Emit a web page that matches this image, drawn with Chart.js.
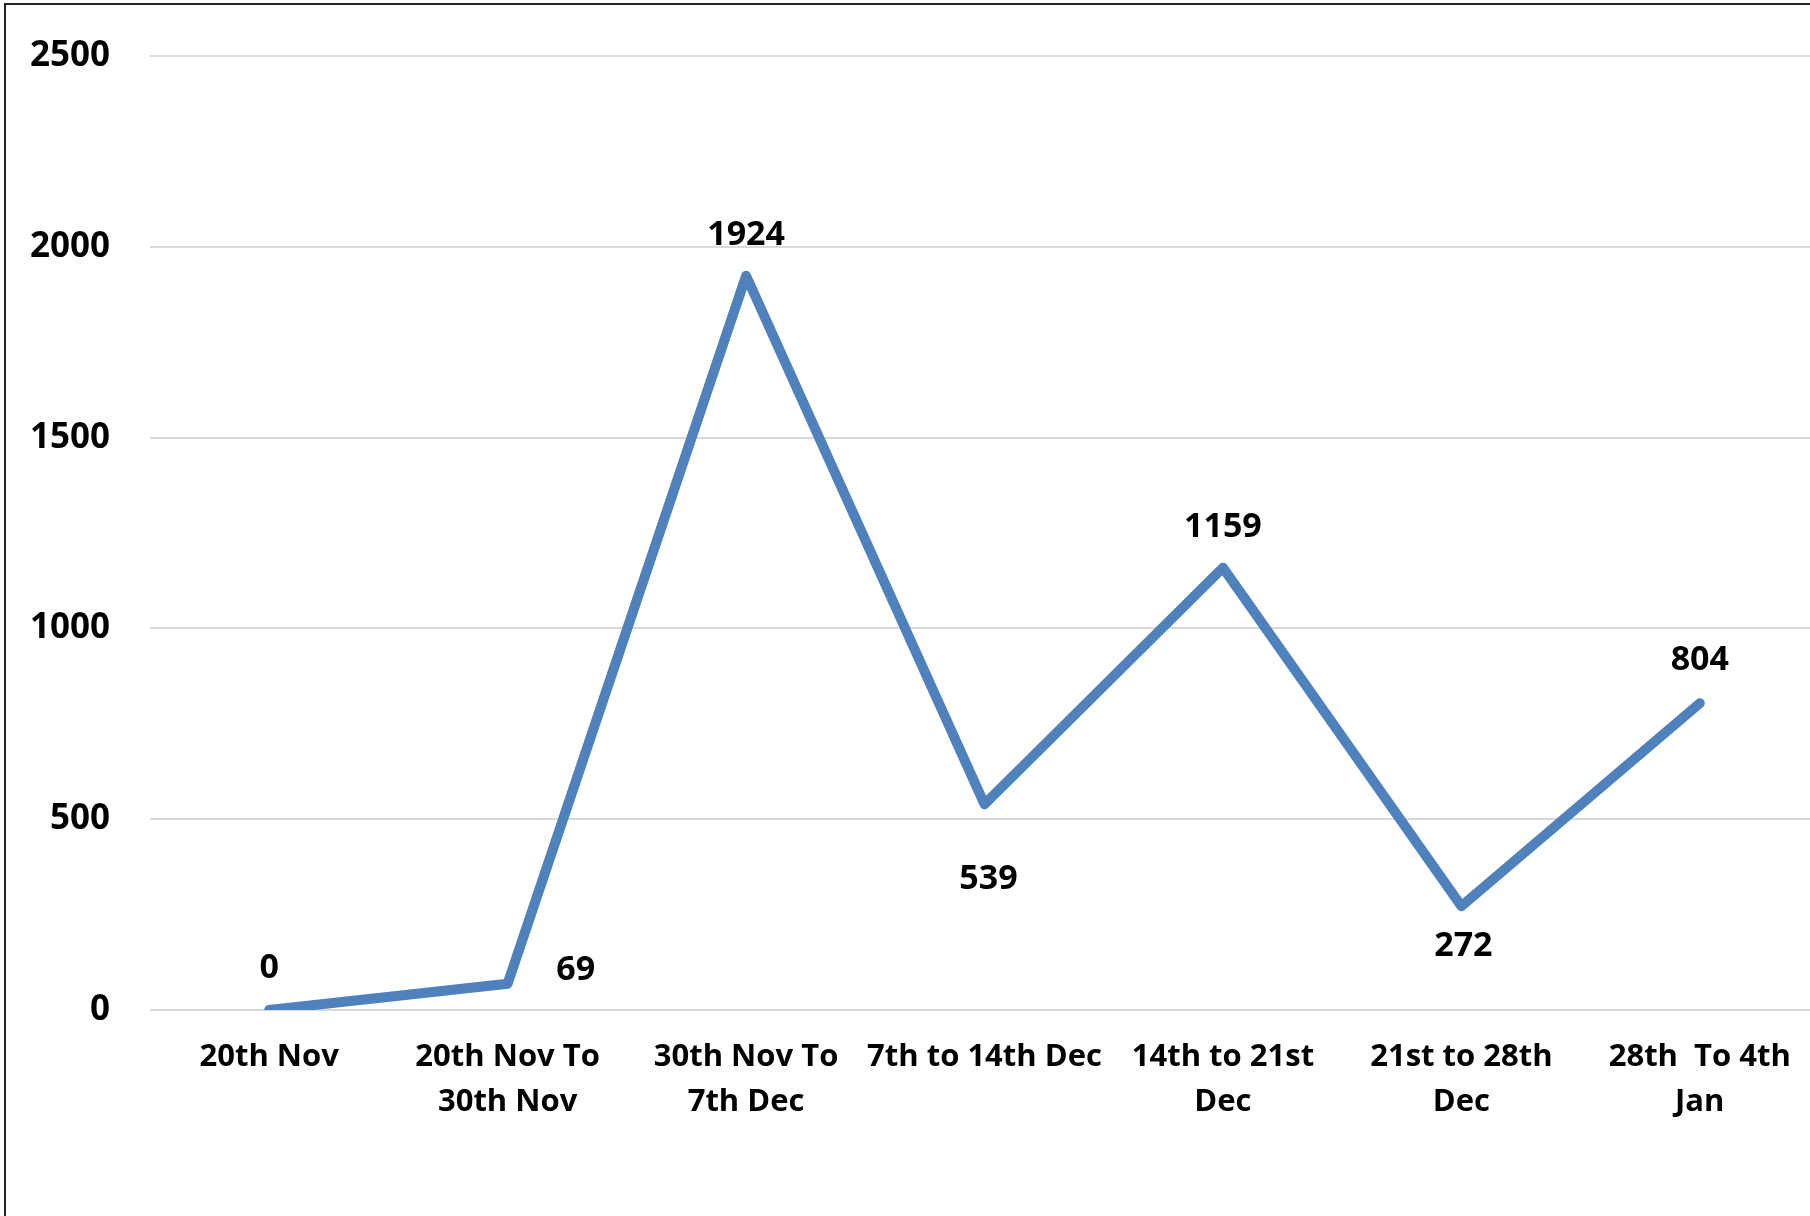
<!DOCTYPE html>
<html>
<head>
<meta charset="utf-8">
<script src="https://cdn.jsdelivr.net/npm/chart.js@4.4.1/dist/chart.umd.min.js"></script>
<style>
  html, body { margin: 0; padding: 0; background: #fff; overflow: hidden; width: 1810px; height: 1216px; }
  #wrap { position: absolute; left: 0; top: 0; width: 1830px; height: 1216px; }
  #frame { position: absolute; left: 4px; top: 3px; width: 1900px; height: 1300px;
           border-left: 2px solid #222; border-top: 2px solid #222; pointer-events: none; }
</style>
</head>
<body>
<div id="wrap"><canvas id="c" width="1830" height="1216"></canvas></div>
<div id="frame"></div>
<script>
const categories = [
  "20th Nov",
  ["20th Nov To", "30th Nov"],
  ["30th Nov To", "7th Dec"],
  "7th to 14th Dec",
  ["14th to 21st", "Dec"],
  ["21st to 28th", "Dec"],
  ["28th  To 4th", "Jan"]
];
const values = [0, 69, 1924, 539, 1159, 272, 804];
const yTicks = [0, 500, 1000, 1500, 2000, 2500];

// label offsets (dx, dy) in pixels relative to each point
const labelOffsets = [[0, -42], [68, -13], [0, -40], [4, 75], [0, -40], [2, 40], [0, -43]];

const FONT = "'Open Sans', 'DejaVu Sans', sans-serif";

const dataLabels = {
  id: 'dataLabels',
  afterDatasetsDraw(chart) {
    const ctx = chart.ctx;
    const meta = chart.getDatasetMeta(0);
    ctx.save();
    ctx.font = "700 34px " + FONT;
    ctx.fillStyle = "#000";
    ctx.textAlign = "center";
    ctx.textBaseline = "middle";
    meta.data.forEach((pt, i) => {
      const o = labelOffsets[i];
      ctx.fillText(String(values[i]), pt.x + o[0], pt.y + o[1]);
    });
    ctx.restore();
  }
};

new Chart(document.getElementById('c'), {
  type: 'line',
  data: {
    labels: categories,
    datasets: [{
      data: values,
      borderColor: '#4f81bd',
      borderWidth: 10,
      borderCapStyle: 'round',
      borderJoinStyle: 'round',
      pointRadius: 0,
      pointHoverRadius: 0,
      tension: 0,
      fill: false
    }]
  },
  options: {
    responsive: false,
    animation: false,
    devicePixelRatio: 1,
    layout: { padding: { top: 56, right: 11, left: 0, bottom: 0 } },
    plugins: { legend: { display: false }, tooltip: { enabled: false } },
    scales: {
      x: {
        offset: true,
        grid: { display: false, drawTicks: false },
        border: { display: false },
        ticks: {
          color: '#000',
          font: { family: FONT, size: 31, weight: '700', lineHeight: 1.45 },
          padding: 25,
          maxRotation: 0,
          autoSkip: false
        },
        afterFit(s) { s.height = 206; s.paddingLeft = 0; s.paddingRight = 0; }
      },
      y: {
        min: 0,
        max: 2500,
        afterBuildTicks(s) { s.ticks = yTicks.map(v => ({ value: v })); },
        grid: { color: '#d9d9d9', lineWidth: 2, drawTicks: false },
        border: { display: false },
        ticks: {
          color: '#000',
          font: { family: FONT, size: 35, weight: '700' },
          padding: 40,
          callback: (v) => String(v)
        },
        afterFit(s) { s.width = 150; s.paddingTop = 0; s.paddingBottom = 0; }
      }
    }
  },
  plugins: [dataLabels]
});
</script>
</body>
</html>
